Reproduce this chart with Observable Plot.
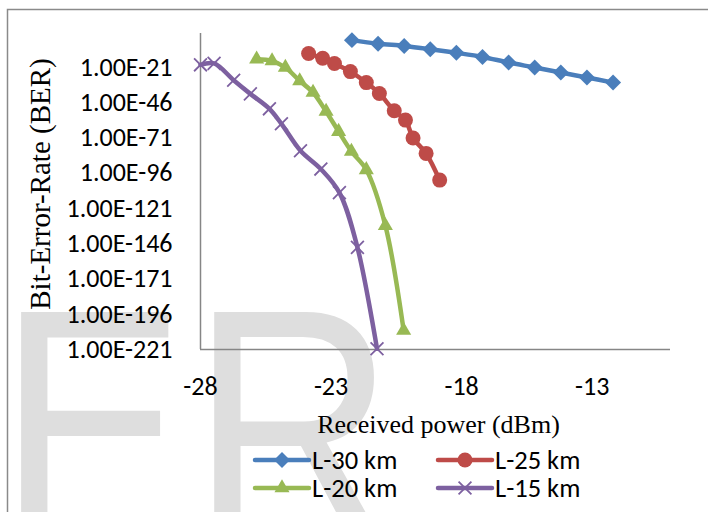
<!DOCTYPE html>
<html><head><meta charset="utf-8">
<script src="https://cdn.jsdelivr.net/npm/d3@7"></script>
<script src="https://cdn.jsdelivr.net/npm/@observablehq/plot@0.6"></script>
<style>
html,body{margin:0;padding:0;background:#fff;}
#chart{position:relative;width:708px;height:512px;overflow:hidden;}
</style></head><body><div id="chart"></div>
<script>
// Series names, colours, marker symbols
const series = ["L-30 km", "L-25 km", "L-20 km", "L-15 km"];
const colors = ["#4A7EBB", "#BE4B48", "#98B954", "#7D60A0"];
const symbols = ["diamond2", "circle", "triangle", "times"];

// Received power (dBm) per series
const power30 = [-22.2, -21.2, -20.2, -19.2, -18.2, -17.2, -16.2, -15.2, -14.2, -13.2, -12.2];
const power25 = [-23.86, -23.32, -22.87, -22.26, -21.65, -21.15, -20.58, -20.15, -19.86, -19.36, -18.84];
const power20 = [-25.85, -25.26, -24.75, -24.2, -23.69, -23.19, -22.71, -22.22, -21.65, -20.92, -20.22];
const power15 = [-28, -27.48, -26.73, -26.09, -25.36, -24.9, -24.17, -23.39, -22.68, -21.99, -21.24];

// log10(BER) per series
const ber30 = [-1.7, -4.2, -5.8, -8.1, -10.7, -13.6, -17.6, -21.1, -24.7, -28.2, -31.8];
const ber25 = [-11.2, -14.5, -18.3, -24.0, -31.8, -39.5, -51.8, -58.4, -71.1, -82.0, -100.9];
const ber20 = [-15.2, -16.4, -21.1, -30.6, -38.8, -52.3, -66.5, -80.6, -93.6, -133.2, -207.5];
const ber15 = [-19.2, -18.2, -30.1, -39.8, -50.4, -61, -80.1, -93.1, -109.8, -148.6, -220.5];

// Axis ticks
const yTicks = [-21, -46, -71, -96, -121, -146, -171, -196, -221];
const xTicks = [-28, -23, -18, -13];

const powers = [power30, power25, power20, power15];
const bers = [ber30, ber25, ber20, ber15];
const data = [];
series.forEach((s, i) => powers[i].forEach((p, j) => data.push({series: s, power: p, ber: bers[i][j]})));

const tickFont = "Carlito, Calibri, Lato, sans-serif";
const serif = "'Liberation Serif', 'Times New Roman', serif";

const marks = [
  Plot.ruleX([-28], {y1: -221, y2: 3, stroke: "#868686", strokeWidth: 1.5}),
  Plot.ruleY([-221], {x1: -28, x2: -10, stroke: "#868686", strokeWidth: 1.5}),
  Plot.axisY(yTicks, {tickSize: 0, tickPadding: 28, tickFormat: d => "1.00E" + d, fontSize: 26, fontFamily: tickFont, fill: "#000", label: null}),
  Plot.axisX(xTicks, {tickSize: 0, tickPadding: 27, tickFormat: d => String(d), fontSize: 26, fontFamily: tickFont, fill: "#000", label: null})
];
series.forEach((s, i) => {
  const d = data.filter(r => r.series === s);
  marks.push(Plot.line(d, {x: "power", y: "ber", stroke: colors[i], strokeWidth: 4.5, curve: "catmull-rom"}));
  if (symbols[i] === "times") {
    marks.push(Plot.dot(d, {x: "power", y: "ber", symbol: "times", r: 5.9, stroke: colors[i], strokeWidth: 1.8}));
  } else {
    const r = symbols[i] === "circle" ? 7.5 : symbols[i] === "diamond2" ? 7.2 : 5.6;
    marks.push(Plot.dot(d, {x: "power", y: "ber", symbol: symbols[i], r, fill: colors[i], stroke: "none"}));
  }
});

const chart = Plot.plot({
  width: 708, height: 512,
  marginLeft: 200, marginRight: 38, marginTop: 33, marginBottom: 163,
  x: {domain: [-28, -10]},
  y: {domain: [-221, 3]},
  style: {background: "transparent", overflow: "visible"},
  marks
});
document.getElementById("chart").appendChild(chart);

const svg = d3.select(chart);
// watermark behind everything
svg.insert("text", ":first-child")
  .attr("transform", "translate(-2,541) scale(1,1.18)")
  .attr("text-anchor", "start")
  .attr("font-family", "'Liberation Sans', Arial, sans-serif")
  .attr("font-size", 282).attr("fill", "#dedede")
  .attr("letter-spacing", 5)
  .text("ER");
svg.insert("rect", ":first-child").attr("width", 708).attr("height", 512).attr("fill", "#fff");

// outer chart border
svg.append("path").attr("d", "M7.5,512V9.5H708").attr("fill", "none").attr("stroke", "#8a8a8a").attr("stroke-width", 1.5);

// axis titles
svg.append("text")
  .attr("transform", "translate(50,184) rotate(-90)")
  .attr("text-anchor", "middle")
  .attr("font-family", serif).attr("font-size", 29).attr("fill", "#000")
  .text("Bit-Error-Rate (BER)");
svg.append("text")
  .attr("x", 438.5).attr("y", 433)
  .attr("text-anchor", "middle")
  .attr("font-family", serif).attr("font-size", 26).attr("fill", "#000")
  .text("Received power (dBm)");

// legend
const legendPos = [[255, 460], [438, 460], [255, 488], [438, 488]];
const symMap = {diamond2: d3.symbolDiamond2, circle: d3.symbolCircle, triangle: d3.symbolTriangle, times: d3.symbolTimes};
series.forEach((s, i) => {
  const [lx, ly] = legendPos[i];
  const g = svg.append("g").attr("transform", `translate(${lx},${ly})`);
  g.append("line").attr("x1", 0).attr("x2", 54).attr("y1", 0).attr("y2", 0)
    .attr("stroke", colors[i]).attr("stroke-width", 4.5).attr("stroke-linecap", "round");
  const rr = symbols[i] === "circle" ? 7.5 : symbols[i] === "diamond2" ? 7.2 : symbols[i] === "times" ? 5.9 : 5.6;
  const path = d3.symbol(symMap[symbols[i]], Math.PI * rr * rr)();
  const p = g.append("path").attr("d", path).attr("transform", "translate(27,0)");
  if (symbols[i] === "times") p.attr("fill", "none").attr("stroke", colors[i]).attr("stroke-width", 1.8);
  else p.attr("fill", colors[i]);
  g.append("text").attr("x", 57).attr("y", 0).attr("dy", "0.35em")
    .attr("text-anchor", "start")
    .attr("font-family", tickFont).attr("font-size", 26.5).attr("fill", "#000")
    .text(s);
});
</script></body></html>
